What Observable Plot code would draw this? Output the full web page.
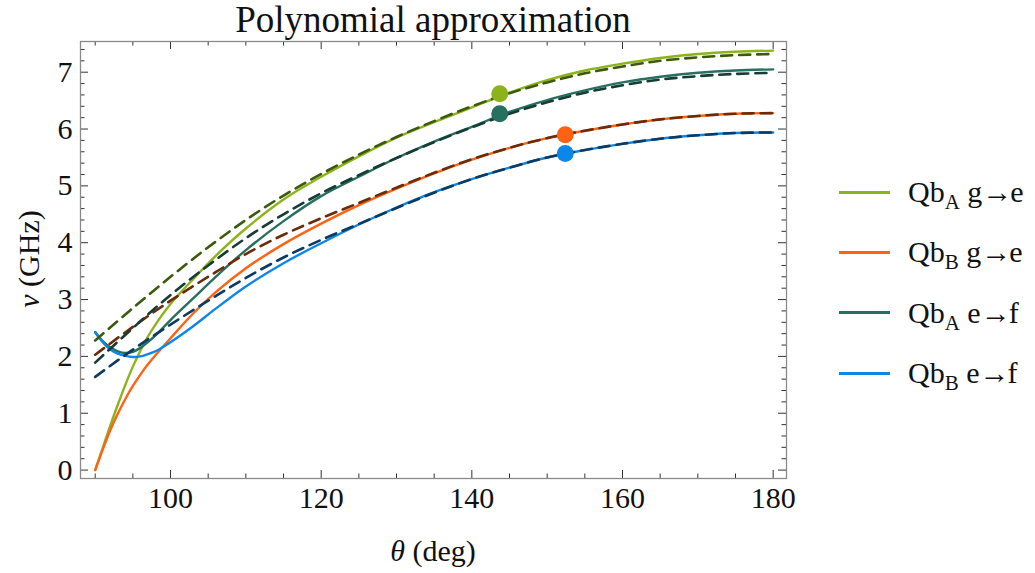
<!DOCTYPE html>
<html>
<head>
<meta charset="utf-8">
<script src="https://cdn.jsdelivr.net/npm/d3@7"></script>
<script src="https://cdn.jsdelivr.net/npm/@observablehq/plot@0.6"></script>
<style>
  body { margin: 0; background: #fff; }
  #wrap { position: relative; width: 1035px; height: 573px; font-family: "Liberation Serif", "Times New Roman", serif; color: #111; }
  #chart { position: absolute; left: 0; top: 0; }
  .ov { position: absolute; white-space: nowrap; }
  #title { left: 80px; width: 706px; top: 1px; text-align: center; font-size: 37px; line-height: 37px; }
  #xlab { left: 80px; width: 706px; top: 536px; text-align: center; font-size: 30px; line-height: 30px; }
  #ylab { left: 29px; top: 259px; font-size: 30px; line-height: 30px; transform: translate(-50%, -50%) rotate(-90deg); }
  #legend { left: 839px; top: 162px; }
  .item { display: flex; align-items: center; height: 60.3px; }
  .sw { width: 51px; height: 3px; margin-right: 18px; }
  .lt { font-size: 30px; line-height: 30px; }
  .lt sub { font-size: 21px; vertical-align: -7px; line-height: 0; }
  .arr { letter-spacing: -2px; }
</style>
</head>
<body>
<div id="wrap">
  <div id="chart"></div>
  <div class="ov" id="title">Polynomial approximation</div>
  <div class="ov" id="xlab"><i>θ</i> (deg)</div>
  <div class="ov" id="ylab"><i>ν</i> (GHz)</div>
  <div class="ov" id="legend"></div>
</div>
<script>
// ---- data ----
const thetaSolid = [90,91,92,93,94,95,96,97,98,100,103,106,110,115,120,125,130,135,140,145,150,155,160,165,170,175,180];
const qbA_ge = [0,0.39,0.78,1.15,1.50,1.82,2.10,2.35,2.56,2.92,3.36,3.77,4.25,4.76,5.16,5.52,5.85,6.12,6.38,6.64,6.86,7.03,7.15,7.25,7.32,7.36,7.38];
const qbB_ge = [0,0.36,0.70,0.99,1.25,1.48,1.68,1.86,2.02,2.32,2.755,3.13,3.55,3.975,4.335,4.66,4.95,5.22,5.46,5.67,5.84,5.97,6.08,6.17,6.23,6.27,6.28];
const qbA_ef = [2.43,2.27,2.16,2.09,2.06,2.08,2.15,2.25,2.37,2.64,3.02,3.40,3.87,4.38,4.82,5.16,5.49,5.78,6.04,6.30,6.51,6.68,6.82,6.92,6.99,7.03,7.05];
const qbB_ef = [2.42,2.25,2.12,2.05,2.01,1.99,2.00,2.04,2.09,2.25,2.53,2.84,3.23,3.64,3.99,4.32,4.62,4.89,5.12,5.32,5.50,5.63,5.74,5.83,5.89,5.93,5.94];

const thetaFit = [90,95,100,105,110,115,120,125,130,135,140,145,150,155,160,165,170,175,180];
const fitA_ge = [2.28,2.85,3.40,3.92,4.40,4.83,5.21,5.55,5.86,6.14,6.40,6.63,6.82,6.98,7.10,7.20,7.26,7.30,7.32];
const fitB_ge = [2.03,2.52,2.98,3.40,3.80,4.14,4.43,4.70,4.97,5.23,5.47,5.67,5.84,5.97,6.08,6.17,6.23,6.27,6.28];
const fitA_ef = [1.89,2.50,3.08,3.60,4.08,4.50,4.87,5.19,5.49,5.77,6.03,6.27,6.47,6.64,6.77,6.87,6.93,6.97,6.99];
const fitB_ef = [1.64,2.12,2.56,2.98,3.38,3.74,4.05,4.33,4.61,4.88,5.12,5.32,5.50,5.63,5.74,5.83,5.89,5.93,5.94];

const pointTheta = [143.7, 152.4, 143.7, 152.4];
const pointNu = [6.62, 5.90, 6.27, 5.57];

const seriesBase = ["Qb", "Qb", "Qb", "Qb"];
const seriesSub = ["A", "B", "A", "B"];
const seriesFrom = ["g", "g", "e", "e"];
const seriesTo = ["e", "e", "f", "f"];
const solidColors = ["#8cb41a", "#ff6212", "#27705f", "#0d86ea"];
const fitColors = ["#3c5a0e", "#6b2a08", "#163d35", "#0c3a60"];

const xMajor = [100,120,140,160,180];
const xMinor = d3.range(90, 181, 5).filter(v => v % 20 !== 0);
const yMajor = [0,1,2,3,4,5,6,7];
const yMinor = d3.range(1, 38).map(i => +(i * 0.2).toFixed(1)).filter(v => Math.abs(v - Math.round(v)) > 1e-6);

// ---- build tables ----
const solidVals = [qbA_ge, qbB_ge, qbA_ef, qbB_ef];
const fitVals = [fitA_ge, fitB_ge, fitA_ef, fitB_ef];
const solid = solidVals.flatMap((vals, s) => vals.map((v, i) => ({theta: thetaSolid[i], nu: v, s})));
const fits = fitVals.flatMap((vals, s) => vals.map((v, i) => ({theta: thetaFit[i], nu: v, s})));
const pts = pointTheta.map((t, i) => ({theta: t, nu: pointNu[i], c: solidColors[i]}));

const W = 1035, H = 573, mL = 80, mR = 249, mT = 41, mB = 95;
const innerH = H - mT - mB, innerW = W - mL - mR;
const frameCol = "#8a8a8a";
const tickCol = "#333";
const majLen = 8, minLen = 4.5;

const marks = [];
[0,1,2,3].forEach(s => {
  marks.push(Plot.line(solid.filter(d => d.s === s), {x: "theta", y: "nu", stroke: solidColors[s], strokeWidth: 2.4, curve: "catmull-rom"}));
});
[0,1,2,3].forEach(s => {
  marks.push(Plot.line(fits.filter(d => d.s === s), {x: "theta", y: "nu", stroke: fitColors[s], strokeWidth: 2.6, strokeDasharray: "11,7", curve: "catmull-rom"}));
});
marks.push(Plot.dot(pts, {x: "theta", y: "nu", r: 8.5, fill: d => d.c, stroke: "none"}));

// ticks on all four sides, pointing inward
marks.push(Plot.tickX(xMajor, {x: d => d, insetTop: innerH - majLen, stroke: tickCol}));
marks.push(Plot.tickX(xMinor, {x: d => d, insetTop: innerH - minLen, stroke: tickCol}));
marks.push(Plot.tickX(xMajor, {x: d => d, insetBottom: innerH - majLen, stroke: tickCol}));
marks.push(Plot.tickX(xMinor, {x: d => d, insetBottom: innerH - minLen, stroke: tickCol}));
marks.push(Plot.tickY(yMajor, {y: d => d, insetRight: innerW - majLen, stroke: tickCol}));
marks.push(Plot.tickY(yMinor, {y: d => d, insetRight: innerW - minLen, stroke: tickCol}));
marks.push(Plot.tickY(yMajor, {y: d => d, insetLeft: innerW - majLen, stroke: tickCol}));
marks.push(Plot.tickY(yMinor, {y: d => d, insetLeft: innerW - minLen, stroke: tickCol}));
marks.push(Plot.frame({stroke: frameCol, strokeWidth: 1.3}));
marks.push(Plot.axisX(xMajor, {tickSize: 0, tickPadding: 8, fontSize: 30, label: null, fill: "#111", tickFormat: d3.format("d")}));
marks.push(Plot.axisY(yMajor, {tickSize: 0, tickPadding: 8, fontSize: 30, label: null, fill: "#111", tickFormat: d3.format("d")}));

const chart = Plot.plot({
  width: W, height: H,
  marginLeft: mL, marginRight: mR, marginTop: mT, marginBottom: mB,
  x: {domain: [88.05, 181.77]},
  y: {domain: [-0.148, 7.54]},
  style: {fontFamily: "Liberation Serif, Times New Roman, serif", background: "white", overflow: "visible"},
  marks
});
document.getElementById("chart").appendChild(chart);

// legend
const leg = document.getElementById("legend");
solidColors.forEach((c, i) => {
  const item = document.createElement("div");
  item.className = "item";
  item.innerHTML = `<div class="sw" style="background:${c}"></div><div class="lt">${seriesBase[i]}<sub>${seriesSub[i]}</sub> ${seriesFrom[i]}<span class="arr">→</span>${seriesTo[i]}</div>`;
  leg.appendChild(item);
});
</script>
</body>
</html>
